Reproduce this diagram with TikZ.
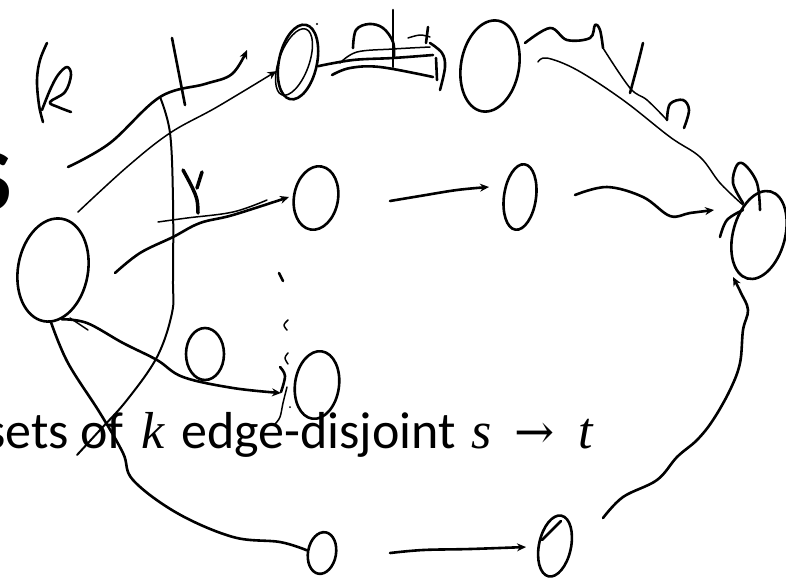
\documentclass[tikz,border=0pt]{standalone}
\usepackage{fontspec}
\setmainfont{Carlito}
\newfontfamily\mvar{Liberation Serif}
\newfontfamily\arrfont{DejaVu Serif}
\usetikzlibrary{shapes.geometric,arrows.meta}
\begin{document}
\begin{tikzpicture}[x=1pt,y=-1pt,
  pen/.style={line width=2.6pt,line cap=round,line join=round},
  thinpen/.style={line width=1.5pt,line cap=round,line join=round},
  vtx/.style={ellipse,draw,line width=2.6pt,inner sep=0pt},
  arr/.style={pen,-{Stealth[length=9pt,width=8pt]}},
  thinarr/.style={thinpen,-{Stealth[length=9pt,width=8pt]}},
  hand/.style={smooth,tension=0.6},
  body/.style={inner sep=0pt}
]
\useasboundingbox (0,0) rectangle (786,579);

% slide text
\node[body,anchor=base east] (title) at (12.5,210) {\fontsize{88}{100}\selectfont\bfseries S};
\node[body,anchor=base east] (w1) at (124,448) {\fontsize{52}{62}\selectfont sets of};
\node[body,anchor=base west] (w2) at (141,448) {\fontsize{52}{62}\selectfont\mvar\itshape k};
\node[body,anchor=base west] (w3) at (181,448) {\fontsize{52}{62}\selectfont edge-disjoint};
\node[body,anchor=base west] (w4) at (471,448) {\fontsize{52}{62}\selectfont\mvar\itshape s};
\node[body,anchor=base west] (w5) at (514,448) {\fontsize{48}{56}\selectfont\arrfont →};
\node[body,anchor=base east] (w6) at (593,448) {\fontsize{52}{62}\selectfont\mvar\itshape t};

% vertices
\node[vtx,minimum width=70pt,minimum height=104pt,rotate=-10] (s) at (53,270) {};
\node[vtx,minimum width=38pt,minimum height=76pt,rotate=-12] (v1) at (298,62) {};
\node[vtx,line width=1.5pt,minimum width=30pt,minimum height=70pt,rotate=-20] (v1b) at (294,62) {};
\node[vtx,minimum width=58pt,minimum height=92pt,rotate=-10] (v2) at (490,66) {};
\node[vtx,minimum width=44pt,minimum height=64pt,rotate=-10] (a) at (316,198) {};
\node[vtx,minimum width=32pt,minimum height=66pt,rotate=-8] (b) at (520,197) {};
\node[vtx,minimum width=52pt,minimum height=90pt,rotate=-15] (t) at (759,235) {};
\node[vtx,minimum width=38pt,minimum height=52pt] (c0) at (205,354) {};
\node[vtx,minimum width=44pt,minimum height=68pt,rotate=-8] (c) at (317,385) {};
\node[vtx,minimum width=28pt,minimum height=42pt,rotate=-10] (d) at (322,553) {};
\node[vtx,minimum width=32pt,minimum height=62pt,rotate=-12] (e) at (555,546) {};
\draw[pen] (542,540) -- (561,521);

% free ends
\coordinate (p1s) at (68,167);
\coordinate (p1e) at (247,50);
\coordinate (p2s) at (78,212);
\coordinate (m1s) at (115,273);
\coordinate (m1e) at (289,197);
\coordinate (abs) at (390,201);
\coordinate (abe) at (489,187);
\coordinate (bts) at (575,195);
\coordinate (bte) at (714,210);
\coordinate (sce) at (281,393);
\coordinate (des) at (390,553);
\coordinate (dee) at (526,547);
\coordinate (ets) at (603,518);
\coordinate (ete) at (733,277);
\coordinate (v2u) at (525,43);
\coordinate (v2l) at (538,62);
\coordinate (v1v2e) at (433,55);

% top paths
\draw[arr] plot[hand] coordinates {(p1s) (110,143) (160,97) (205,84) (232,74) (p1e)};
\draw[thinarr] plot[hand] coordinates {(p2s) (127,167) (170,133) (217,107) (v1.215)};
\draw[pen] plot[hand] coordinates {(v1.east) (353,60) (393,58) (v1v2e)};
\draw[thinpen] plot[hand] coordinates {(340,63) (357,52) (393,49) (430,47)};
\draw[pen] plot[hand] coordinates {(332,75) (350,68) (380,67) (433,77)};
\draw[pen] plot[hand] coordinates {(353,48) (356,30) (369,24) (383,28) (393,42) (394,58)};
\draw[pen] (393,10) -- (393,67);
\draw[pen] (428,27) -- (426,43);
\draw[thinpen] plot[hand] coordinates {(408,38) (420,35) (430,37)};
\draw[pen] plot[hand] coordinates {(430,43) (442,53) (445,67) (440,90)};
\draw[pen] (436,58) -- (437,80);
\fill (317,24) circle (1.2pt);

% v2 -> t
\draw[pen] plot[hand] coordinates {(v2u) (550,28) (567,40) (590,38) (595,25) (600,30) (603,48)};
\draw[thinpen] plot[hand] coordinates {(603,48) (630,88) (647,100) (667,120)};
\draw[thinpen] plot[hand] coordinates {(v2l) (547,58) (577,70) (623,100) (670,137) (700,157) (720,183) (743,205)};
\draw[pen] plot[hand] coordinates {(643,43) (637,67) (630,93)};
\draw[pen] plot[hand] coordinates {(667,120) (670,104) (683,100) (689,110) (684,128)};
\draw[pen] plot[hand] coordinates {(743,203) (733,183) (737,165) (745,165) (757,183) (760,210)};
\draw[pen] plot[hand] coordinates {(720,237) (727,220) (743,210)};

% middle row
\draw[arr] plot[hand] coordinates {(m1s) (140,253) (173,237) (200,223) (233,215) (m1e)};
\draw[thinpen] plot[hand] coordinates {(158,222) (187,218) (233,212) (267,200)};
\draw[pen,line width=3.5pt] plot[hand] coordinates {(183,170) (192,187) (197,200) (198,213)};
\draw[pen,line width=3.5pt] (202,172) -- (197,188);
\draw[arr] plot[hand] coordinates {(abs) (420,196) (457,190) (abe)};
\draw[arr] plot[hand] coordinates {(bts) (607,187) (643,197) (670,216) (690,213) (bte)};

% dots between middle and lower rows
\draw[pen] (279,273) -- (283,281);
\draw[thinpen] plot[hand] coordinates {(288,320) (284,325) (287,330)};
\draw[thinpen] plot[hand] coordinates {(288,353) (285,358) (288,364)};

% lower paths
\draw[arr] plot[hand] coordinates {(s.-70) (87,323) (123,343) (157,360) (183,377) (233,388) (sce)};
\draw[pen] plot[hand] coordinates {(280,367) (285,376) (281,392)};
\draw[thinpen] plot[hand] coordinates {(287,387) (283,403) (280,417) (275,424)};
\fill (290,407) circle (1pt);
\draw[thinpen] (70,318) -- (88,330);
\draw[pen] plot[hand] coordinates {(s.-82) (68,363) (100,413) (123,453) (133,480) (177,513) (233,537) (280,542) (d.west)};
\draw[arr] plot[hand] coordinates {(des) (423,550) (470,549) (dee)};
\draw[arr] plot[hand] coordinates {(ets) (623,497) (657,480) (677,457) (697,440) (713,420) (730,390) (740,363) (743,330) (748,310) (741,293) (ete)};

% cut
\draw[pen] (172,38) -- (185,105);
\draw[thinpen,line width=2pt] plot[hand] coordinates {(160,97) (170,133) (173,200) (173,280) (172,313) (157,357) (127,400) (100,430) (77,455)};

% handwritten k
\draw[pen] plot[hand] coordinates {(47,43) (40,60) (37,80) (39,105) (43,122)};
\draw[pen] plot[hand] coordinates {(42,110) (50,90) (58,75) (67,67) (71,75) (65,92) (50,102) (58,107) (71,112)};
\end{tikzpicture}
\end{document}
